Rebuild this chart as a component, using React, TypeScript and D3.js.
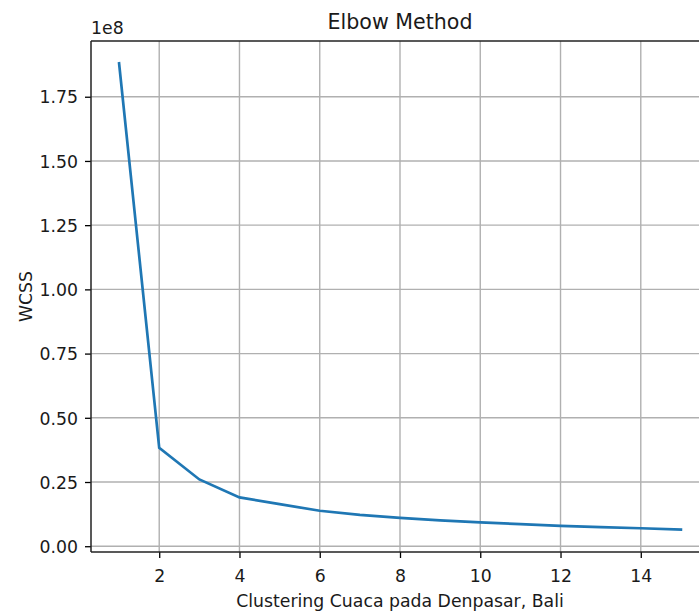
import React, { useEffect, useRef } from 'react';
import * as d3 from 'd3';

// number of clusters k and the WCSS for each (in units of 1e8)
const clusters = [1, 2, 3, 4, 5, 6, 7, 8, 9, 10, 11, 12, 13, 14, 15];
const wcss = [1.88, 0.383, 0.26, 0.19, 0.164, 0.138, 0.122, 0.11, 0.101, 0.093, 0.086, 0.079, 0.074, 0.07, 0.065];
const xTicks = [2, 4, 6, 8, 10, 12, 14];
const yTicks = [0, 0.25, 0.5, 0.75, 1.0, 1.25, 1.5, 1.75];

const App = () => {
  const svgRef = useRef<SVGSVGElement>(null);

  useEffect(() => {
    const svg = d3.select(svgRef.current);
    svg.selectAll('*').remove();

    const width = 699;
    const height = 613;
    const margin = { top: 41, right: -10, bottom: 61, left: 91 };
    const font = 'DejaVu Sans, sans-serif';
    const fs = 17.3;

    const x = d3.scaleLinear().domain([0.3, 15.7]).range([margin.left, width - margin.right]);
    const y = d3.scaleLinear().domain([-0.0225, 1.967]).range([height - margin.bottom, margin.top]);

    const g = svg.append('g');

    // grid
    g.selectAll('.gx')
      .data(xTicks)
      .join('line')
      .attr('x1', (d) => x(d)).attr('x2', (d) => x(d))
      .attr('y1', margin.top).attr('y2', height - margin.bottom)
      .attr('stroke', '#b0b0b0').attr('stroke-width', 1.4);
    g.selectAll('.gy')
      .data(yTicks)
      .join('line')
      .attr('x1', margin.left).attr('x2', width)
      .attr('y1', (d) => y(d)).attr('y2', (d) => y(d))
      .attr('stroke', '#b0b0b0').attr('stroke-width', 1.4);

    // line
    const line = d3.line<number>().x((_, i) => x(clusters[i])).y((d) => y(d));
    g.append('path')
      .datum(wcss)
      .attr('d', line)
      .attr('fill', 'none')
      .attr('stroke', '#1f77b4')
      .attr('stroke-width', 2.7)
      .attr('stroke-linecap', 'square');

    // axes
    const xAxis = d3.axisBottom(x).tickValues(xTicks).tickSize(6).tickPadding(12).tickFormat(d3.format('d'));
    const yAxis = d3.axisLeft(y).tickValues(yTicks).tickSize(6).tickPadding(7).tickFormat(d3.format('.2f'));

    const gx = svg.append('g').attr('transform', `translate(0,${height - margin.bottom})`).call(xAxis);
    const gy = svg.append('g').attr('transform', `translate(${margin.left},0)`).call(yAxis);
    [gx, gy].forEach((a) => {
      a.select('.domain').remove();
      a.selectAll('line').attr('stroke', '#000').attr('stroke-width', 1.3);
      a.selectAll('text').attr('font-family', font).attr('font-size', fs).attr('fill', '#1a1a1a');
    });
    gy.selectAll('text').attr('dy', '0.36em');

    // spines
    svg.append('line')
      .attr('x1', margin.left).attr('x2', margin.left)
      .attr('y1', margin.top).attr('y2', height - margin.bottom)
      .attr('stroke', '#222').attr('stroke-width', 1.5);
    svg.append('line')
      .attr('x1', margin.left).attr('x2', width)
      .attr('y1', margin.top).attr('y2', margin.top)
      .attr('stroke', '#222').attr('stroke-width', 1.5);
    svg.append('line')
      .attr('x1', margin.left).attr('x2', width)
      .attr('y1', height - margin.bottom).attr('y2', height - margin.bottom)
      .attr('stroke', '#222').attr('stroke-width', 1.5);

    // texts
    svg.append('text')
      .attr('x', 400).attr('y', 29)
      .attr('text-anchor', 'middle')
      .attr('font-family', font).attr('font-size', 20.6).attr('fill', '#1a1a1a')
      .text('Elbow Method');
    svg.append('text')
      .attr('x', 91).attr('y', 34)
      .attr('font-family', font).attr('font-size', fs).attr('fill', '#1a1a1a')
      .text('1e8');
    svg.append('text')
      .attr('x', 400).attr('y', 607)
      .attr('text-anchor', 'middle')
      .attr('font-family', font).attr('font-size', fs).attr('fill', '#1a1a1a')
      .text('Clustering Cuaca pada Denpasar, Bali');
    svg.append('text')
      .attr('transform', `translate(32,${(margin.top + height - margin.bottom) / 2}) rotate(-90)`)
      .attr('text-anchor', 'middle')
      .attr('font-family', font).attr('font-size', fs).attr('fill', '#1a1a1a')
      .text('WCSS');
  }, []);

  return (
    <svg
      ref={svgRef}
      width={699}
      height={613}
      style={{ position: 'absolute', left: 0, top: 0, background: '#fff' }}
    />
  );
};

export default App;
